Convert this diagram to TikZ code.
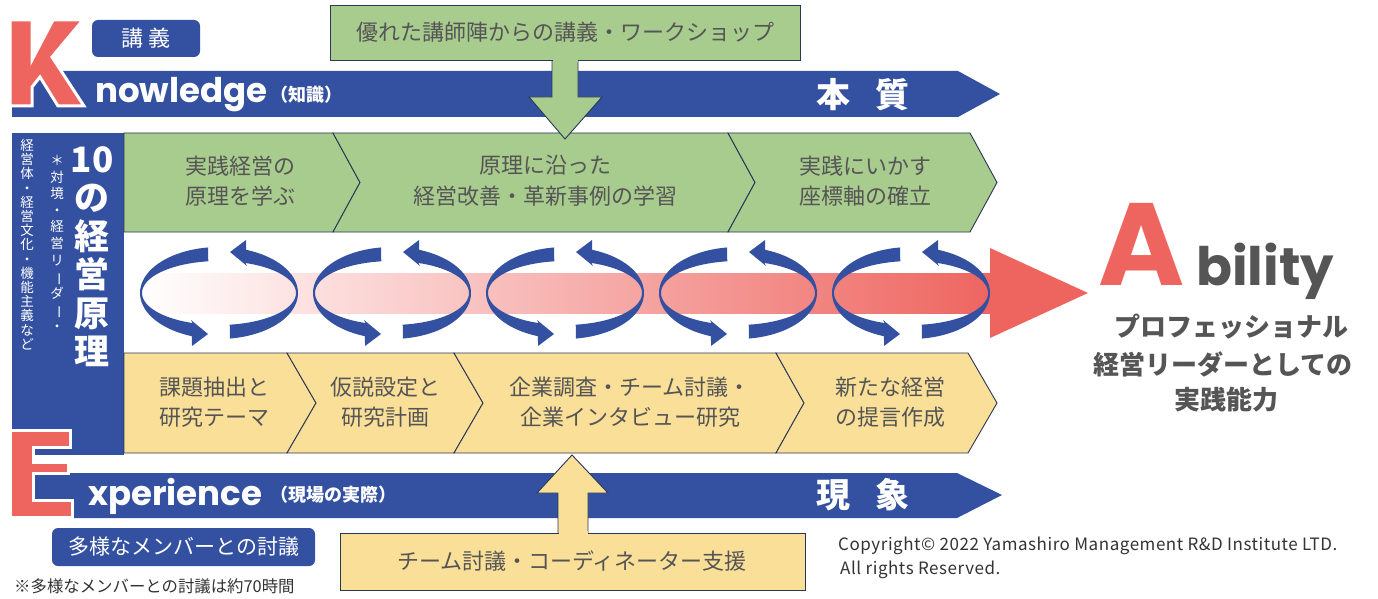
\documentclass[tikz,border=0pt]{standalone}
\usepackage{fontspec}
\usepackage{graphicx}
\setmainfont{Noto Sans CJK JP}
\newfontfamily\pop{Poppins}
\newfontfamily\copyfont[LetterSpace=3.2]{Noto Sans CJK JP}
\usetikzlibrary{shapes.geometric}
\definecolor{bluec}{HTML}{3451A1}
\definecolor{redc}{HTML}{EE6560}
\definecolor{greenc}{HTML}{A8CB8E}
\definecolor{yellowc}{HTML}{F9DF98}
\definecolor{linec}{HTML}{2A3756}
\definecolor{greyt}{HTML}{555555}
\definecolor{darkt}{HTML}{333333}
\newcommand\vbarJ{\rotatebox[origin=c]{-90}{ー}}
\tikzset{
  chevG/.style={fill=greenc, draw=linec, line width=0.9pt, line join=miter},
  chevY/.style={fill=yellowc, draw=linec, line width=0.9pt, line join=miter},
  band/.style={fill=bluec},
  letter/.style={fill=redc, draw=white, line width=3pt, line join=miter},
  chtext/.style={text=greyt, align=center, inner sep=0, font=\fontsize{22}{30.5}\selectfont},
  tagbox/.style={fill=bluec, rounded corners=6pt},
  whitet/.style={text=white, inner sep=0},
}
\begin{document}
\begin{tikzpicture}[x=1pt,y=-1pt]
\useasboundingbox (0,0) rectangle (1378,599);
\fill[white] (0,0) rectangle (1378,599);

% ---- Knowledge band
\fill[band] (12,71) -- (958,71) -- (1000,94) -- (958,117) -- (12,117) -- cycle;
% K letter
\filldraw[letter] (10,20) -- (32,20) -- (32,60) -- (53,20) -- (83,20) -- (52,57) -- (84,106) -- (58,106) -- (40,77) -- (32,87) -- (32,106) -- (10,106) -- cycle;
\node[whitet, anchor=base west, font=\pop\bfseries\fontsize{34}{34}\selectfont] (know) at (95,103) {nowledge};
\node[whitet, anchor=west, font=\bfseries\fontsize{18}{18}\selectfont] (knowj) at (270,95) {（知識）};
\node[whitet, font=\bfseries\fontsize{34}{34}\selectfont] (honshitsu) at (863,95) {本\hspace{26pt}質};

% 講義 tag
\fill[tagbox] (92,20) rectangle (200,57);
\node[whitet, font=\fontsize{22}{22}\selectfont] (kogi) at (146,38.5) {講\hspace{6pt}義};

% ---- left vertical bar
\fill[band] (12,133) rectangle (124,455);
\node[whitet, align=center, anchor=north, font=\bfseries\fontsize{35}{38.5}\selectfont] (ten) at (92,146) {10\\の\\経\\営\\原\\理};
\node[whitet, align=center, anchor=north, font=\fontsize{13.5}{14.2}\selectfont] (v1) at (27,139) {経\\営\\体\\・\\経\\営\\文\\化\\・\\機\\能\\主\\義\\な\\ど};
\node[whitet, align=center, anchor=north, font=\fontsize{13.5}{16.6}\selectfont] (v2) at (57,155) {＊\\対\\境\\・\\経\\営\\リ\\\vbarJ\\ダ\\\vbarJ\\・};

% ---- green chevrons
\filldraw[chevG] (124,133) -- (333,133) -- (360,182.5) -- (333,232) -- (124,232) -- cycle;
\filldraw[chevG] (333,133) -- (728,133) -- (755,182.5) -- (728,232) -- (333,232) -- (360,182.5) -- cycle;
\filldraw[chevG] (728,133) -- (970,133) -- (997,182.5) -- (970,232) -- (728,232) -- (755,182.5) -- cycle;
\node[chtext] (g1) at (240,181) {実践経営の\\原理を学ぶ};
\node[chtext] (g2) at (545,181) {原理に沿った\\経営改善・革新事例の学習};
\node[chtext] (g3) at (865,181) {実践にいかす\\座標軸の確立};

% ---- yellow chevrons
\filldraw[chevY] (124,353) -- (287,353) -- (316,403) -- (287,453) -- (124,453) -- cycle;
\filldraw[chevY] (287,353) -- (454,353) -- (483,403) -- (454,453) -- (287,453) -- (316,403) -- cycle;
\filldraw[chevY] (454,353) -- (776,353) -- (804,403) -- (776,453) -- (454,453) -- (483,403) -- cycle;
\filldraw[chevY] (776,353) -- (968,353) -- (997,403) -- (968,453) -- (776,453) -- (804,403) -- cycle;
\node[chtext] (y1) at (214,402) {課題抽出と\\研究テーマ};
\node[chtext] (y2) at (385,402) {仮説設定と\\研究計画};
\node[chtext] (y3) at (630,402) {企業調査・チーム討議・\\企業インタビュー研究};
\node[chtext] (y4) at (890,402) {新たな経営\\の提言作成};

% ---- gradient arrow
\shade[left color=white, right color=redc] (140,273) rectangle (992,313);
\fill[redc] (990,248) -- (1088,293) -- (990,338) -- cycle;

% ---- cycle arrows
\foreach \cx in {219,392,565,738,911}{
  \fill[bluec] plot[domain=98:250, samples=40] ({\cx+79*cos(\x)},{293-46*sin(\x)})
     -- (\cx-27,346) -- (\cx-11,334) -- (\cx-28,320)
     -- plot[domain=250:98, samples=40] ({\cx+77*cos(\x)},{293-32*sin(\x)}) -- cycle;
  \fill[bluec, rotate around={180:(\cx,293)}] plot[domain=98:250, samples=40] ({\cx+79*cos(\x)},{293-46*sin(\x)})
     -- (\cx-27,346) -- (\cx-11,334) -- (\cx-28,320)
     -- plot[domain=250:98, samples=40] ({\cx+77*cos(\x)},{293-32*sin(\x)}) -- cycle;
}

% ---- top green box and arrow
\filldraw[chevG] (552,55) -- (578,55) -- (578,97) -- (602,97) -- (565,139) -- (529,97) -- (552,97) -- cycle;
\filldraw[chevG] (330,5) rectangle (800,60);
\fill[greenc] (552.5,58) rectangle (577.5,62);
\node[chtext] (topbox) at (565,32) {優れた講師陣からの講義・ワークショップ};

% ---- Experience band
\fill[band] (12,473) -- (957,473) -- (1002,495) -- (957,518) -- (12,518) -- cycle;
\filldraw[letter] (10,430) -- (70,430) -- (70,447) -- (33,447) -- (33,462) -- (68,462) -- (68,473) -- (33,473) -- (33,500) -- (72,500) -- (72,517) -- (10,517) -- cycle;
\node[whitet, anchor=base west, font=\pop\bfseries\fontsize{34}{34}\selectfont] (exper) at (88,505) {xperience};
\node[whitet, anchor=west, font=\bfseries\fontsize{18}{18}\selectfont] (experj) at (270,495) {（現場の実際）};
\node[whitet, font=\bfseries\fontsize{34}{34}\selectfont] (gensho) at (863,495) {現\hspace{26pt}象};

% ---- bottom yellow box and arrow
\filldraw[chevY] (558,538) -- (558,493) -- (537,493) -- (572,455) -- (608,493) -- (588,493) -- (588,538) -- cycle;
\filldraw[chevY] (340,533) rectangle (805,590);
\fill[yellowc] (558.5,531) rectangle (587.5,535);
\node[chtext] (botbox) at (572,561.5) {チーム討議・コーディネーター支援};

% ---- members tag
\fill[tagbox] (52,528) rectangle (315,566);
\node[whitet, font=\fontsize{21}{21}\selectfont] (members) at (184,547) {多様なメンバーとの討議};
\node[text=darkt, inner sep=0, anchor=west, font=\fontsize{16.4}{16.4}\selectfont] (note) at (14,586) {※多様なメンバーとの討議は約70時間};

% ---- Ability
\node[text=redc, inner sep=0, text depth=0pt, anchor=base west, font=\pop\bfseries\fontsize{117}{117}\selectfont] (A) at (1098,285) {A};
\node[text=greyt, inner sep=0, anchor=base west, font=\pop\bfseries\fontsize{53}{53}\selectfont] (bility) at (1196,285) {bility};
\node[text=greyt, inner sep=0, font=\bfseries\fontsize{26}{26}\selectfont] (ab1) at (1231,327) {プロフェッショナル};
\node[text=greyt, inner sep=0, font=\bfseries\fontsize{26}{26}\selectfont] (ab2) at (1223,364) {経営リーダーとしての};
\node[text=greyt, inner sep=0, font=\bfseries\fontsize{26}{26}\selectfont] (ab3) at (1226,400) {実践能力};

% ---- copyright
\node[text=darkt, inner sep=0, anchor=west, font=\copyfont\fontsize{17}{17}\selectfont] (copy1) at (838,546) {Copyright© 2022 Yamashiro Management R\&D Institute LTD.};
\node[text=darkt, inner sep=0, anchor=west, font=\copyfont\fontsize{17}{17}\selectfont] (copy2) at (840,570) {All rights Reserved.};
\end{tikzpicture}
\end{document}
